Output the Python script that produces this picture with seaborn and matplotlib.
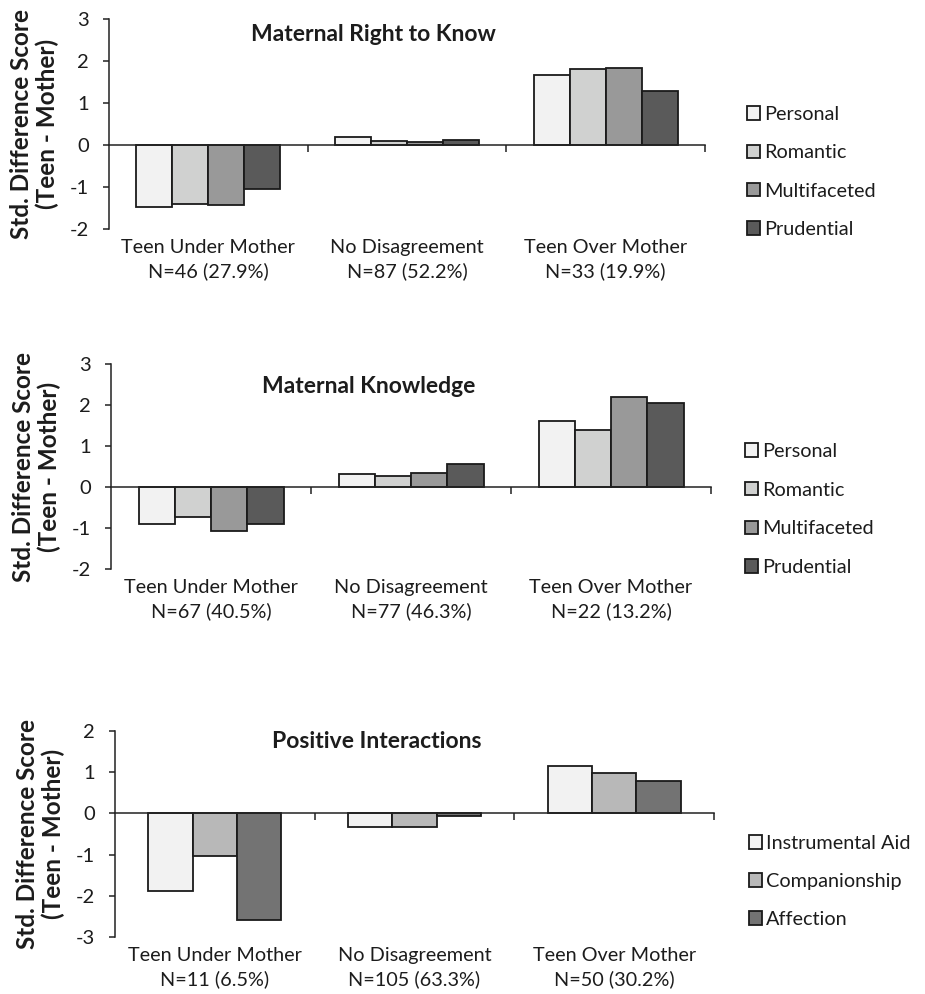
import matplotlib
matplotlib.use("Agg")
import matplotlib.pyplot as plt
import matplotlib.transforms as mtransforms
import pandas as pd
import seaborn as sns

# ---------------- data ----------------
categories = ["Teen Under Mother", "No Disagreement", "Teen Over Mother"]

rtk_n = ["N=46 (27.9%)", "N=87 (52.2%)", "N=33 (19.9%)"]
kn_n = ["N=67 (40.5%)", "N=77 (46.3%)", "N=22 (13.2%)"]
pi_n = ["N=11 (6.5%)", "N=105 (63.3%)", "N=50 (30.2%)"]

domains = ["Personal", "Romantic", "Multifaceted", "Prudential"]
interactions = ["Instrumental Aid", "Companionship", "Affection"]

rtk_personal = [-1.48, 0.18, 1.67]
rtk_romantic = [-1.40, 0.09, 1.80]
rtk_multifaceted = [-1.44, 0.06, 1.84]
rtk_prudential = [-1.05, 0.13, 1.29]

kn_personal = [-0.91, 0.32, 1.62]
kn_romantic = [-0.74, 0.27, 1.39]
kn_multifaceted = [-1.07, 0.33, 2.20]
kn_prudential = [-0.91, 0.57, 2.05]

pi_instrumental = [-1.88, -0.32, 1.16]
pi_companionship = [-1.04, -0.34, 0.98]
pi_affection = [-2.59, -0.06, 0.78]

domain_colors = ["#F2F2F2", "#D0D1D0", "#999999", "#5A5A5A"]
inter_colors = ["#F2F2F2", "#B8B8B8", "#737373"]


def long_df(series_names, series_values):
    rows = []
    for name, vals in zip(series_names, series_values):
        for cat, v in zip(categories, vals):
            rows.append({"group": cat, "series": name, "value": v})
    return pd.DataFrame(rows)


sns.set_theme(style="white")
plt.rcParams["font.family"] = ["Lato", "DejaVu Sans"]

W, H = 925, 994
fig = plt.figure(figsize=(W / 100, H / 100), dpi=100)
TXT = "#1c1c1c"


def px_axes(x0, x1, ytop, ybot):
    return fig.add_axes([x0 / W, 1 - ybot / H, (x1 - x0) / W, (ybot - ytop) / H])


panels = [
    dict(box=(109, 705, 19, 229), ylim=(-2, 3), title="Maternal Right to Know",
         tpos=(0.443, 0.924), names=domains,
         vals=[rtk_personal, rtk_romantic, rtk_multifaceted, rtk_prudential],
         colors=domain_colors, width=0.725, ns=rtk_n, leg=(747, 113, 228)),
    dict(box=(111, 711, 364, 569), ylim=(-2, 3), title="Maternal Knowledge",
         tpos=(0.430, 0.888), names=domains,
         vals=[kn_personal, kn_romantic, kn_multifaceted, kn_prudential],
         colors=domain_colors, width=0.725, ns=kn_n, leg=(745, 450, 566)),
    dict(box=(115, 714, 731, 937), ylim=(-3, 2), title="Positive Interactions",
         tpos=(0.437, 0.947), names=interactions,
         vals=[pi_instrumental, pi_companionship, pi_affection],
         colors=inter_colors, width=0.666, ns=pi_n, leg=(749, 842, 918)),
]

FS = 14.3
for p in panels:
    x0, x1, yt, yb = p["box"]
    ax = px_axes(x0, x1, yt, yb)
    df = long_df(p["names"], p["vals"])
    sns.barplot(data=df, x="group", y="value", hue="series", order=categories,
                hue_order=p["names"], palette=p["colors"], width=p["width"],
                edgecolor="#1a1a1a", linewidth=1.3, saturation=1, ax=ax,
                errorbar=None)
    ax.set_xlim(-0.5, 2.5)
    ax.set_ylim(*p["ylim"])
    lo, hi = p["ylim"]
    ax.set_yticks(range(lo, hi + 1))
    ax.set_yticklabels([str(v) for v in range(lo, hi + 1)], fontsize=14.5, color=TXT)
    ax.tick_params(axis="y", direction="out", length=4.3, width=1.1, color="#222222",
                   pad=10, left=True)
    ax.set_xticks([0.5, 1.5, 2.5])
    ax.set_xticklabels([])
    ax.tick_params(axis="x", direction="out", length=5, width=1.1, color="#222222",
                   bottom=True)
    ax.spines["top"].set_visible(False)
    ax.spines["right"].set_visible(False)
    ax.spines["bottom"].set_position(("data", 0))
    for s in ("left", "bottom"):
        ax.spines[s].set_color("#222222")
        ax.spines[s].set_linewidth(1.1)
    ax.set_xlabel("")
    ax.set_ylabel("Std. Difference Score\n(Teen - Mother)", fontsize=17.5,
                  fontweight="bold", color=TXT, labelpad=8, linespacing=1.12)
    ax.text(p["tpos"][0], p["tpos"][1], p["title"], transform=ax.transAxes,
            ha="center", va="center", fontsize=16.5, fontweight="bold", color=TXT)
    trans = mtransforms.blended_transform_factory(ax.transData, ax.transAxes)
    ylab = -10 / (yb - yt)
    for i, (c, n) in enumerate(zip(categories, p["ns"])):
        ax.text(i, ylab, c + "\n" + n, transform=trans, ha="center", va="top",
                fontsize=FS, color=TXT, linespacing=1.45)
    handles, labels = ax.get_legend_handles_labels()
    if ax.get_legend():
        ax.get_legend().remove()
    lx, ly0, ly1 = p["leg"]
    nitems = len(labels)
    step = (ly1 - ly0) / (nitems - 1)
    fpx = FS * 100 / 72
    leg = fig.legend(handles, labels, loc="upper left",
                     bbox_to_anchor=(lx / W, 1 - (ly0 - 7.0) / H),
                     frameon=False, fontsize=FS, handlelength=0.65, handleheight=0.65,
                     handletextpad=0.22, borderpad=0, borderaxespad=0,
                     labelspacing=(step - 17.0) / fpx)
    for t in leg.get_texts():
        t.set_color(TXT)

fig.savefig("out.png", dpi=100, facecolor="white")
